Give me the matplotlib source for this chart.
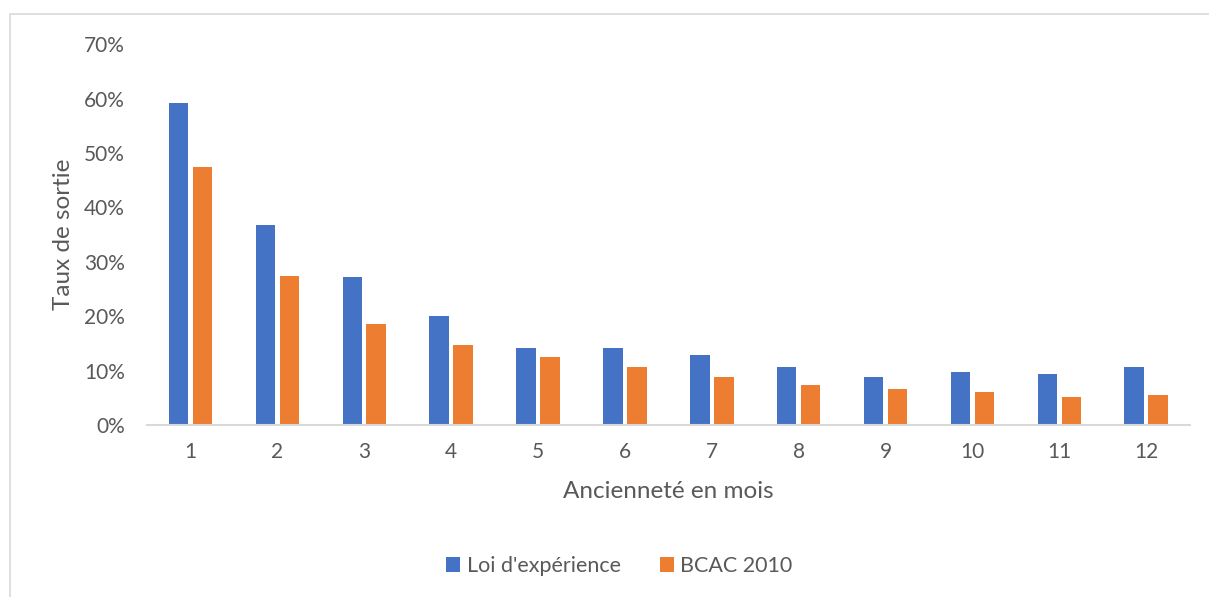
import numpy as np
import matplotlib.pyplot as plt
from matplotlib.patches import Rectangle
from matplotlib.ticker import FuncFormatter

mois = np.arange(1, 13)
loi_experience = [59.2, 36.8, 27.2, 20.0, 14.2, 14.2, 12.9, 10.6, 8.9, 9.8, 9.4, 10.7]
bcac_2010 = [47.5, 27.4, 18.6, 14.7, 12.6, 10.7, 8.8, 7.3, 6.7, 6.1, 5.1, 5.6]

plt.rcParams['font.family'] = ['Lato', 'DejaVu Sans']
gris = '#595959'

fig = plt.figure(figsize=(12.09, 5.97), dpi=100)
ax = fig.add_axes([0.1216, 0.288, 0.8624, 0.638])

# cadre du graphique
fig.patches.append(Rectangle((10 / 1209, -0.1), 1.2, (1 - 14 / 597) + 0.1,
                             transform=fig.transFigure, fill=False,
                             edgecolor='#d9d9d9', linewidth=1.2))

larg = 0.224
dx = 0.138
ax.bar(mois - dx, loi_experience, width=larg, color='#4472c4', label="Loi d'expérience")
ax.bar(mois + dx, bcac_2010, width=larg, color='#ed7d31', label='BCAC 2010')

ax.set_xlim(0.5, 12.5)
ax.set_ylim(0, 70)
ax.set_yticks(np.arange(0, 71, 10))
ax.yaxis.set_major_formatter(FuncFormatter(lambda v, p: f'{v:.0f}%'))
ax.set_xticks(mois)

for s in ['top', 'right', 'left']:
    ax.spines[s].set_visible(False)
ax.spines['bottom'].set_color('#d9d9d9')
ax.spines['bottom'].set_linewidth(1.5)
ax.tick_params(axis='both', length=0, labelsize=15, labelcolor=gris)
ax.tick_params(axis='y', pad=16)
ax.tick_params(axis='x', pad=12)

ax.set_xlabel('Ancienneté en mois', fontsize=17.5, color=gris, labelpad=14)
ax.set_ylabel('Taux de sortie', fontsize=17.5, color=gris, labelpad=7)

leg = ax.legend(loc='center', bbox_to_anchor=(0.453, -0.37), ncol=2, frameon=False,
                fontsize=15.5, handlelength=0.65, handleheight=0.65, columnspacing=1.8,
                handletextpad=0.3)
for t in leg.get_texts():
    t.set_color(gris)

fig.savefig('out.png', dpi=100)
